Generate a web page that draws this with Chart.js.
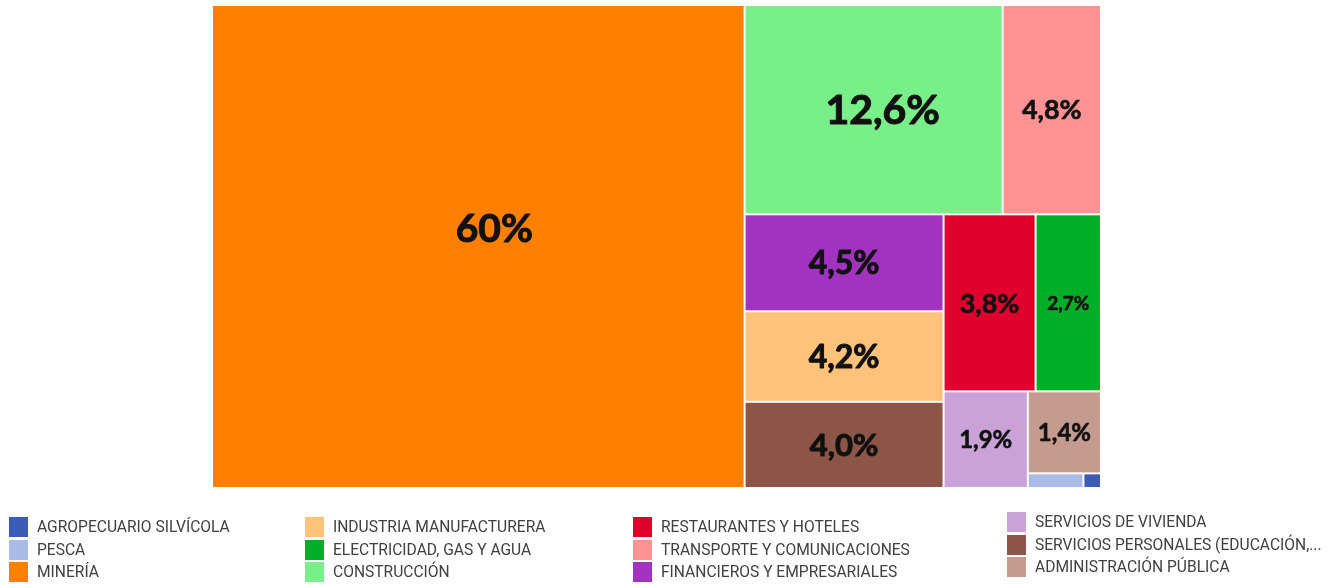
<!DOCTYPE html>
<html lang="es">
<head>
<meta charset="utf-8">
<script src="https://cdn.jsdelivr.net/npm/chart.js@4.4.1/dist/chart.umd.min.js"></script>
<style>
    html, body { margin: 0; padding: 0; background: #fff; }
    #wrap { position: relative; width: 1333px; height: 585px; overflow: hidden; }
    #grafico { position: absolute; left: 0; top: 0; }
    .item { position: absolute; display: flex; align-items: center; height: 20px; font-family: Roboto, sans-serif; font-size: 15.6px; color: #404040; white-space: nowrap; }
    .caja { width: 19px; height: 20px; margin-right: 9px; flex: none; }
</style>
</head>
<body>
<div id="wrap">
    <canvas id="grafico" width="1333" height="585"></canvas>
    <div id="leyenda"></div>
</div>
<script>
// Datos (% del PIB regional por sector)
const sectores = [
    'AGROPECUARIO SILVÍCOLA',
    'PESCA',
    'MINERÍA',
    'INDUSTRIA MANUFACTURERA',
    'ELECTRICIDAD, GAS Y AGUA',
    'CONSTRUCCIÓN',
    'RESTAURANTES Y HOTELES',
    'TRANSPORTE Y COMUNICACIONES',
    'FINANCIEROS Y EMPRESARIALES',
    'SERVICIOS DE VIVIENDA',
    'SERVICIOS PERSONALES (EDUCACIÓN,...',
    'ADMINISTRACIÓN PÚBLICA'
];
const valores = [0.06, 0.19, 60, 4.2, 2.7, 12.6, 3.8, 4.8, 4.5, 1.9, 4.0, 1.4];
const etiquetas = ['', '', '60%', '4,2%', '2,7%', '12,6%', '3,8%', '4,8%', '4,5%', '1,9%', '4,0%', '1,4%'];

// Estilo
const colores = [
    '#3b5db4', '#aabbe8', '#ff8000', '#ffc27a', '#00ae28', '#78ef88',
    '#e0002e', '#ff9292', '#a233c0', '#caa2d8', '#8c5547', '#c59b90'
];
const tamEtiqueta = [0, 0, 39, 32, 19, 41, 27, 27, 32, 24, 31, 24];
const ajusteEtiqueta = { 2: [16, -19], 5: [9, 0] };

const PHI = (1 + Math.sqrt(5)) / 2;

// treemap "squarified" (proporción áurea), igual que d3
function squarify(nodos, x0, y0, x1, y1) {
    let total = nodos.reduce((s, n) => s + n.valor, 0);
    let i0 = 0, i1 = 0;
    const n = nodos.length;
    const out = [];
    while (i0 < n) {
        const dx = x1 - x0, dy = y1 - y0;
        let suma = nodos[i1++].valor;
        let min = suma, max = suma;
        const alpha = Math.max(dy / dx, dx / dy) / (total * PHI);
        let beta = suma * suma * alpha;
        let minRatio = Math.max(max / beta, beta / min);
        for (; i1 < n; ++i1) {
            const v = nodos[i1].valor;
            suma += v;
            if (v < min) min = v;
            if (v > max) max = v;
            beta = suma * suma * alpha;
            const r = Math.max(max / beta, beta / min);
            if (r > minRatio) { suma -= v; break; }
            minRatio = r;
        }
        const fila = nodos.slice(i0, i1);
        if (dx < dy) {
            const yb = i1 < n ? y0 + dy * suma / total : y1;
            let x = x0;
            fila.forEach(nd => {
                const w = dx * nd.valor / suma;
                out.push({ ...nd, x0: x, x1: x + w, y0: y0, y1: yb });
                x += w;
            });
            y0 = yb;
        } else {
            const xb = i1 < n ? x0 + dx * suma / total : x1;
            let y = y0;
            fila.forEach(nd => {
                const h = dy * nd.valor / suma;
                out.push({ ...nd, x0: x0, x1: xb, y0: y, y1: y + h });
                y += h;
            });
            x0 = xb;
        }
        total -= suma;
        i0 = i1;
    }
    return out;
}

const treemapPlugin = {
    id: 'treemap',
    afterDatasetsDraw(chart) {
        const ctx = chart.ctx;
        const area = chart.chartArea;
        const xs = chart.scales.x, ys = chart.scales.y;
        const cw = area.right - area.left, ch = area.bottom - area.top;
        let nodos = valores.map((v, i) => ({ valor: v, idx: i }));
        nodos.sort((a, b) => b.valor - a.valor);
        // layout en proporciones del área, luego a valores 0-100 de las escalas
        const rects = squarify(nodos, 0, 0, cw, ch).map(r => ({
            idx: r.idx,
            a: r.x0 / cw * 100, b: r.x1 / cw * 100,
            c: r.y0 / ch * 100, d: r.y1 / ch * 100
        }));
        ctx.save();
        rects.forEach(r => {
            const px0 = xs.getPixelForValue(r.a), px1 = xs.getPixelForValue(r.b);
            const py0 = ys.getPixelForValue(r.c), py1 = ys.getPixelForValue(r.d);
            ctx.fillStyle = colores[r.idx];
            ctx.fillRect(px0 + 1, py0 + 1, px1 - px0 - 2, py1 - py0 - 2);
        });
        rects.forEach(r => {
            const txt = etiquetas[r.idx];
            if (!txt) return;
            const size = tamEtiqueta[r.idx];
            const aj = ajusteEtiqueta[r.idx] || [0, 0];
            const cx = (xs.getPixelForValue(r.a) + xs.getPixelForValue(r.b)) / 2 + aj[0];
            const cy = (ys.getPixelForValue(r.c) + ys.getPixelForValue(r.d)) / 2 + aj[1];
            ctx.font = 'bold ' + size + 'px Lato';
            ctx.fillStyle = '#111';
            ctx.strokeStyle = '#111';
            ctx.lineWidth = size > 30 ? 1 : 0.6;
            ctx.lineJoin = 'round';
            ctx.textAlign = 'center';
            ctx.textBaseline = 'alphabetic';
            ctx.fillText(txt, cx, cy + size * 0.36);
            ctx.strokeText(txt, cx, cy + size * 0.36);
        });
        ctx.restore();
    }
};

new Chart(document.getElementById('grafico'), {
    type: 'scatter',
    data: { datasets: [{ data: [] }] },
    options: {
        responsive: false,
        animation: false,
        layout: { padding: { left: 212, right: 232, top: 5, bottom: 97 } },
        plugins: { legend: { display: false }, tooltip: { enabled: false } },
        scales: {
            x: { type: 'linear', min: 0, max: 100, display: false },
            y: { type: 'linear', min: 0, max: 100, reverse: true, display: false }
        }
    },
    plugins: [treemapPlugin]
});

// Leyenda en 4 columnas, 3 filas
const colX = [9, 305, 633, 1007];
const colTop = [517, 517, 517, 512];
let html = '';
sectores.forEach(function(s, i) {
    let col = Math.floor(i / 3), fila = i % 3;
    let top = colTop[col] + fila * 22.5;
    html += `<div class="item" style="left:${colX[col]}px;top:${top}px"><span class="caja" style="background:${colores[i]}"></span>${s}</div>`;
});
document.getElementById('leyenda').innerHTML = html;
</script>
</body>
</html>
